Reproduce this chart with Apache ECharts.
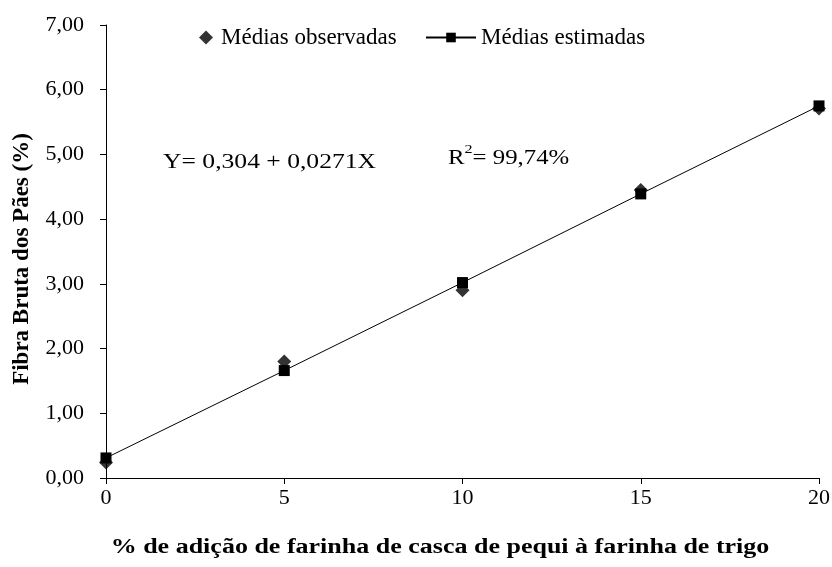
<!DOCTYPE html>
<html><head><meta charset="utf-8">
<script src="https://cdn.jsdelivr.net/npm/echarts@6/dist/echarts.min.js"></script>
<style>html,body{margin:0;padding:0;background:#fff}#c{width:832px;height:567px}</style>
</head><body><div id="c"></div>
<script>
const xValues = [0, 5, 10, 15, 20];
const observed = [0.24, 1.80, 2.90, 4.45, 5.71];
const estimated = [0.31, 1.66, 3.02, 4.39, 5.75];
const yTicks = [0, 1, 2, 3, 4, 5, 6, 7];
const seriesNames = ['Médias observadas', 'Médias estimadas'];
const yTitle = 'Fibra Bruta dos Pães (%)';
const xTitle = '% de adição de farinha de casca de pequi à farinha de trigo';
const equationText = 'Y= 0,304 + 0,0271X';
const r2Text = '99,74%';

const font = '"Liberation Serif", "Times New Roman", serif';
const chart = echarts.init(document.getElementById('c'));
const legendText = { fontFamily: font, fontSize: 23, color: '#000', padding: [0, 0, 0, 3] };
chart.setOption({
  animation: false,
  backgroundColor: '#fff',
  textStyle: { fontFamily: font, color: '#000' },
  grid: { left: 106, right: 13, top: 25, bottom: 89, containLabel: false, outerBoundsMode: 'none' },
  legend: [
    {
      top: 26, left: 199, padding: 0, itemWidth: 14, itemHeight: 14,
      textStyle: legendText,
      data: [{ name: seriesNames[0], icon: 'diamond', itemStyle: { color: '#000' } }]
    },
    {
      top: 26, left: 425, padding: 0, itemWidth: 50, itemHeight: 12,
      textStyle: Object.assign({}, legendText, { padding: [0, 0, 0, 0] }),
      data: [{ name: seriesNames[1] }]
    }
  ],
  xAxis: {
    type: 'value', min: 0, max: 20, interval: 5,
    axisLine: { show: true, lineStyle: { color: '#000', width: 1 } },
    axisTick: { show: true, length: 6, lineStyle: { color: '#000' } },
    splitLine: { show: false },
    axisLabel: { fontFamily: font, fontSize: 22, color: '#000', margin: 9 }
  },
  yAxis: {
    type: 'value', min: yTicks[0], max: yTicks[yTicks.length - 1], interval: 1,
    axisLine: { show: true, lineStyle: { color: '#000', width: 1 } },
    axisTick: { show: true, length: 6, lineStyle: { color: '#000' } },
    splitLine: { show: false },
    axisLabel: { fontFamily: font, fontSize: 22, color: '#000', margin: 22,
      formatter: v => v.toFixed(2).replace('.', ',') }
  },
  series: [
    {
      name: seriesNames[1], type: 'line',
      data: xValues.map((x, i) => [x, estimated[i]]),
      symbol: 'rect', symbolSize: 11,
      lineStyle: { color: '#000', width: 1 },
      itemStyle: { color: '#000' }, z: 2
    },
    {
      name: seriesNames[0], type: 'scatter',
      data: xValues.map((x, i) => [x, observed[i]]),
      symbol: 'diamond', symbolSize: 14,
      itemStyle: { color: '#000' }, z: 3
    }
  ],
  graphic: [
    { type: 'text', x: 440, y: 548, scaleX: 1.3,
      style: { text: xTitle, font: 'bold 20px ' + font, fill: '#000', align: 'center', verticalAlign: 'middle' } },
    { type: 'text', x: 22, y: 259, rotation: Math.PI / 2,
      style: { text: yTitle, font: 'bold 23px ' + font, fill: '#000', align: 'center', verticalAlign: 'middle' } },
    { type: 'text', x: 163, y: 163, scaleX: 1.28,
      style: { text: equationText, font: '20px ' + font, fill: '#000', align: 'left', verticalAlign: 'middle' } },
    { type: 'text', x: 448, y: 156, scaleX: 1.24,
      style: { text: '{a|R}{s|2}{a|= ' + r2Text + '}', fill: '#000', align: 'left', verticalAlign: 'middle',
        rich: { a: { fontFamily: font, fontSize: 20, verticalAlign: 'bottom', lineHeight: 26 },
                s: { fontFamily: font, fontSize: 13, verticalAlign: 'top', lineHeight: 26 } } } }
  ]
});
</script></body></html>
